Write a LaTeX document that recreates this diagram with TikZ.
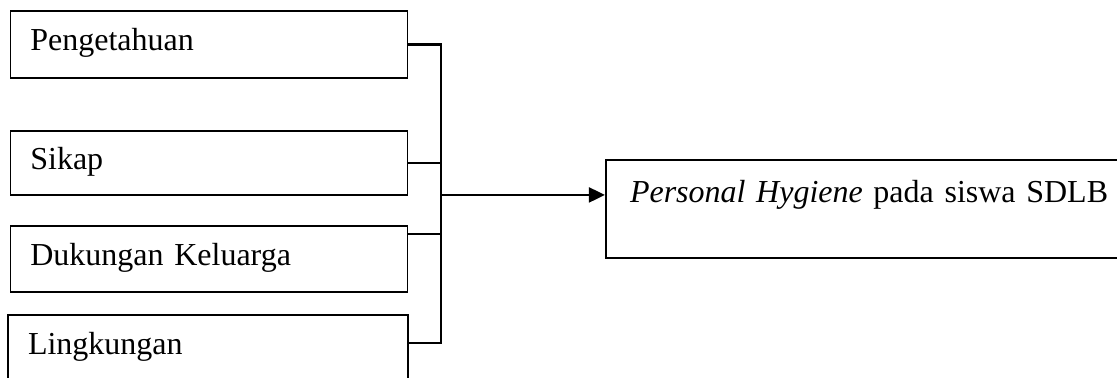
\documentclass[tikz,border=0pt]{standalone}
\usepackage{fontspec}
\setmainfont{Liberation Serif}
\usetikzlibrary{arrows.meta, calc, positioning}
\tikzset{
    factor/.style={draw, line width=0.6pt, rectangle, inner xsep=7.5pt,
        text width=134pt, align=left, text height=8pt, text depth=3.5pt,
        minimum height=#1},
    factor/.default={25pt},
    outcome/.style={draw, line width=0.8pt, rectangle, inner xsep=9pt,
        text width=210pt, align=left, text height=8pt, text depth=13pt,
        minimum height=36.75pt},
    link/.style={line width=0.9pt}
}
\begin{document}
\begin{tikzpicture}[x=0.375pt, y=-0.375pt, font=\fontsize{12}{14}\selectfont]
    \useasboundingbox (0,0) rectangle (1117,377);
    \clip (0,0) rectangle (1117,377);
    % factor boxes
    \node[factor=25.1pt] (peng) at (209,44.5) {Pengetahuan};
    \node[factor=24pt] (sikap) at (209,163) {Sikap};
    \node[factor=24.75pt] (dukung) at (209,259) {Dukungan Keluarga};
    \node[factor=24.75pt, text width=135pt] (ling) at (208,348) {Lingkungan};
    % outcome box
    \node[outcome] (hygiene) at (910,209) {\textit{Personal Hygiene} pada siswa SDLB};
    \coordinate (bus) at (441,0);
    \coordinate (lingout) at ($(ling.east)+(0,-5)$);
    \coordinate (dukout) at ($(dukung.north east)+(0,9)$);
    \coordinate (hygin) at ($(hygiene.north west)+(0,36)$);
    \draw[link] (peng.east) -- (peng.east -| bus) -- (lingout -| bus) -- (lingout);
    \draw[line width=0.45pt] (sikap.east) -- (sikap.east -| bus);
    \draw[link] (dukout) -- (dukout -| bus);
    \draw[link, -{Triangle[length=6pt, width=5.6pt]}] (hygin -| bus) -- (hygin);
\end{tikzpicture}
\end{document}
